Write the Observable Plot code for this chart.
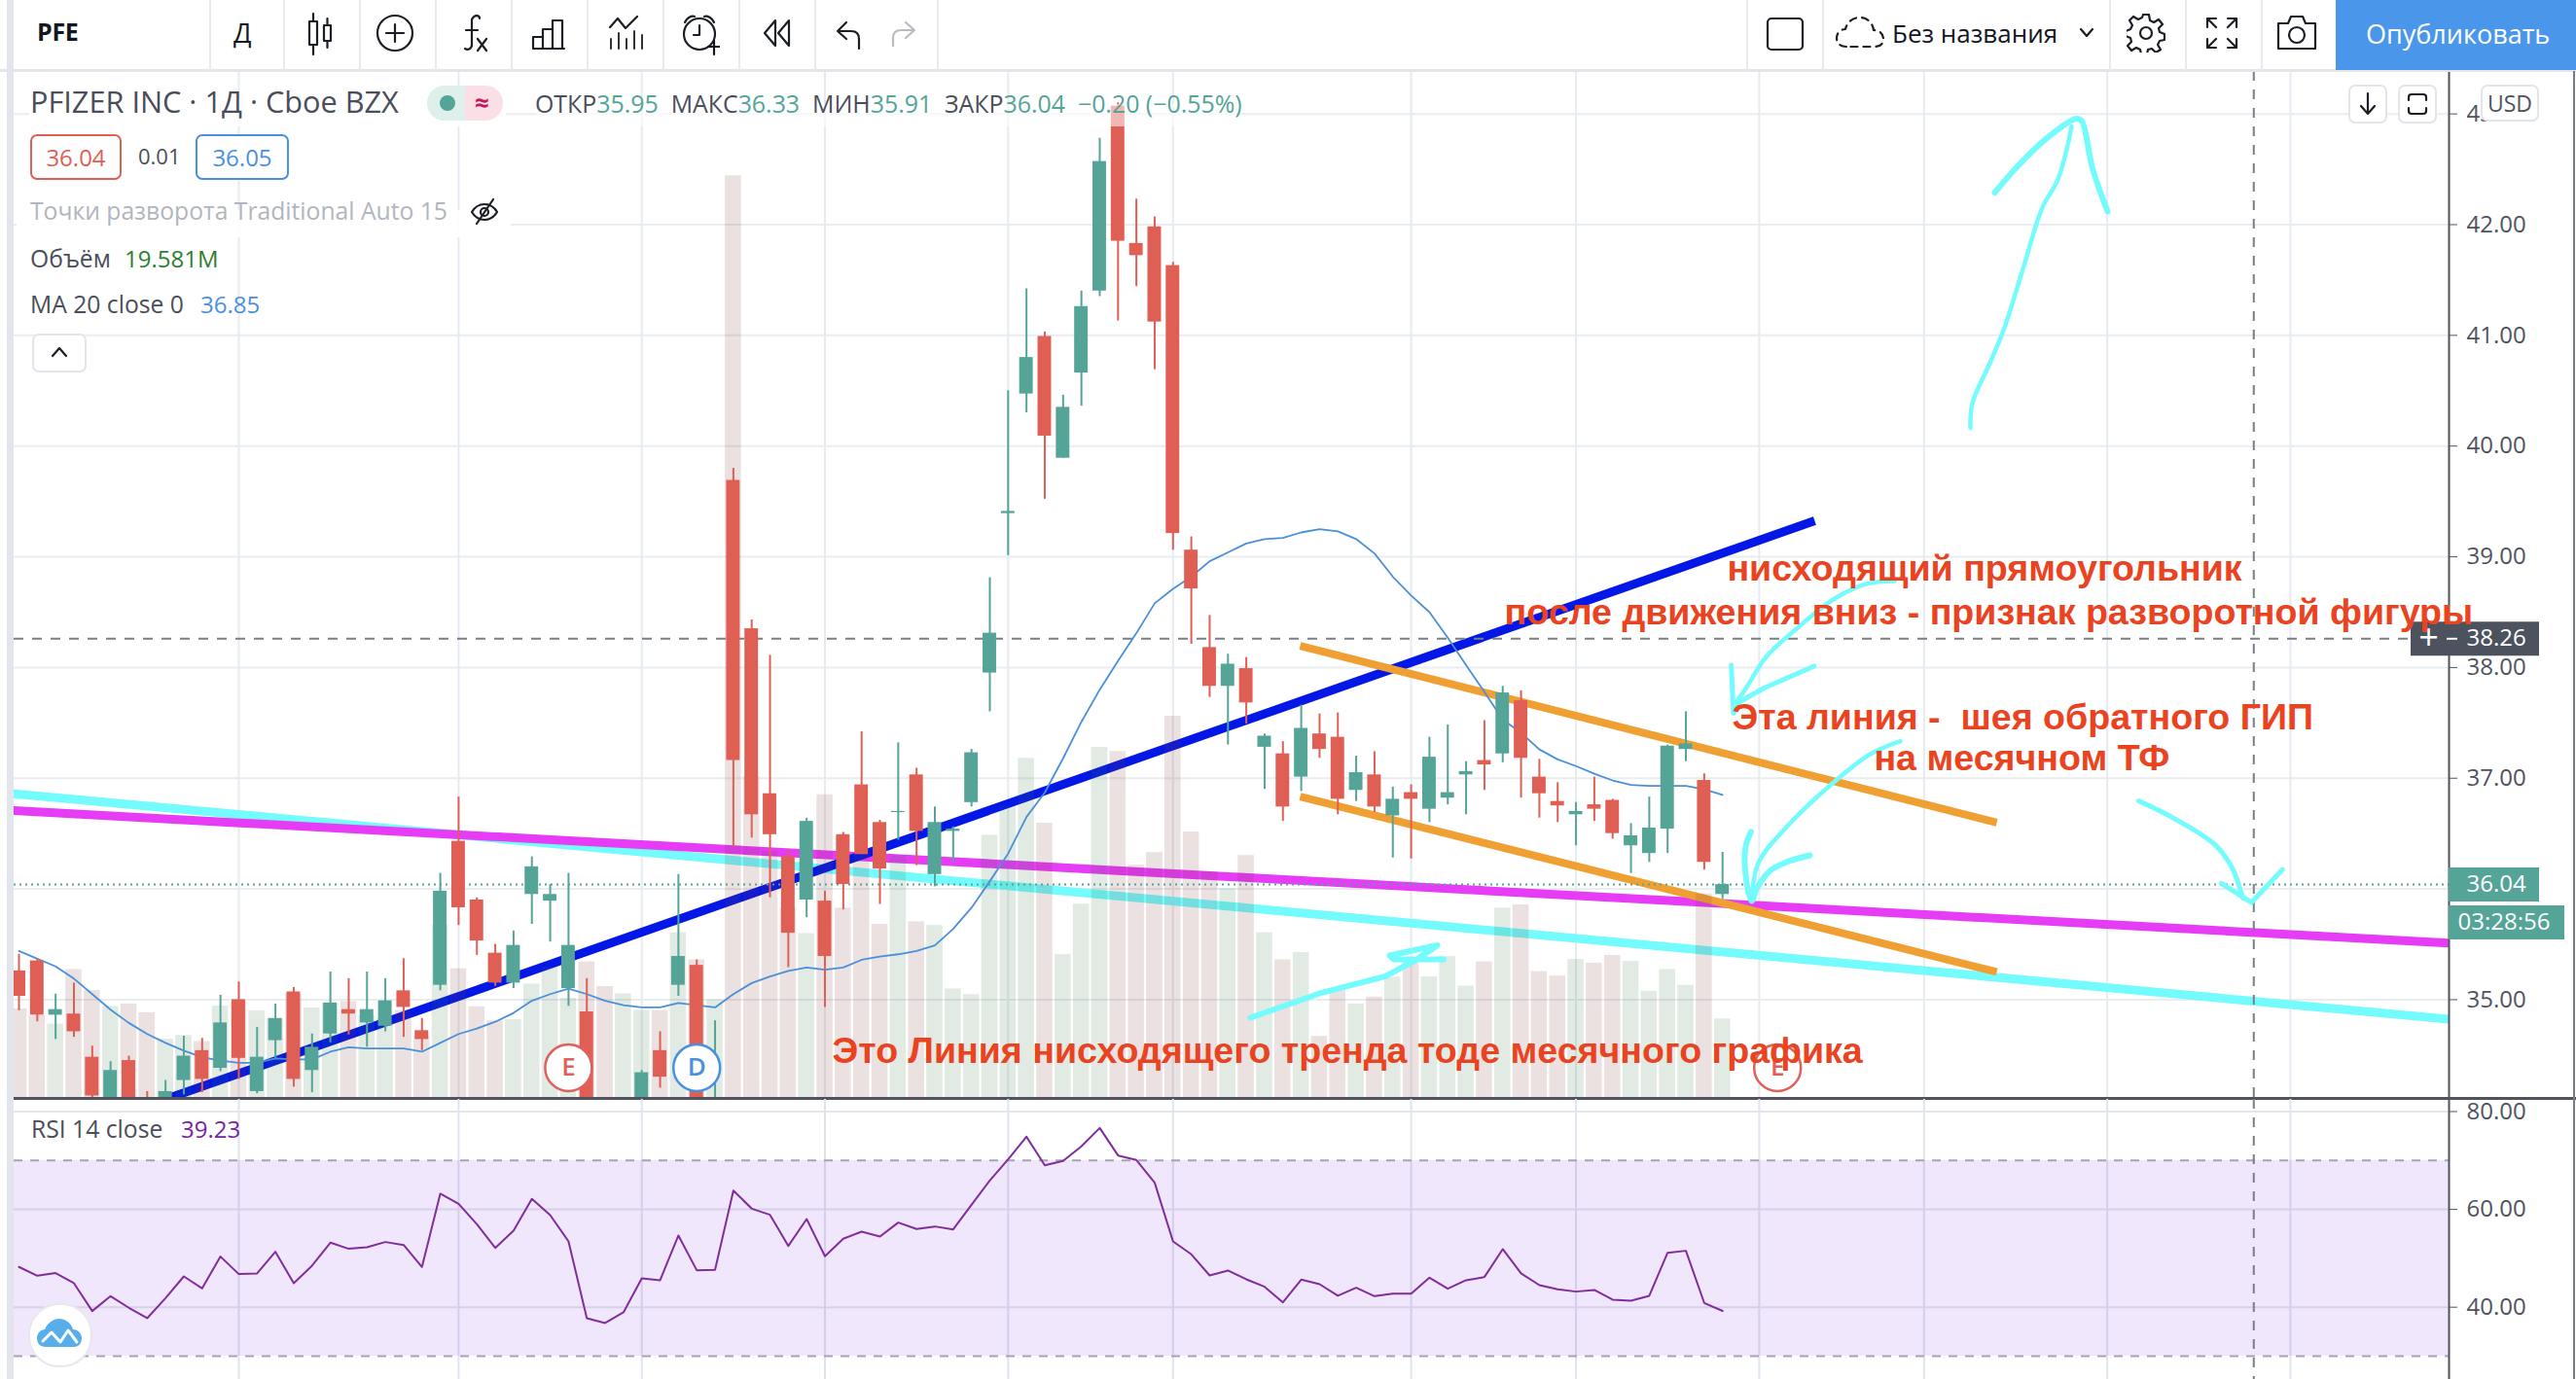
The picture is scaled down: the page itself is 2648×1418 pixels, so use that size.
<!DOCTYPE html>
<html><head><meta charset="utf-8">
<script src="https://cdn.jsdelivr.net/npm/d3@7"></script>
<script src="https://cdn.jsdelivr.net/npm/@observablehq/plot@0.6"></script>
<style>
html,body{margin:0;padding:0;background:#fff;width:2648px;height:1418px;overflow:hidden}
#root{position:relative;width:2648px;height:1418px;font-family:"Open Sans",sans-serif;color:#4a4e5a}
#root>svg,#root>div,#root>span{position:absolute}
.t{position:absolute;white-space:pre;line-height:1}
.sep{position:absolute;top:0;width:2px;height:72px;background:#e8eaef}
.ic{position:absolute;fill:none;stroke:#1c1e26;stroke-width:2.2;stroke-linecap:round;stroke-linejoin:round}
.box{position:absolute;box-sizing:border-box;border-radius:7px;text-align:center}
</style></head><body><div id="root"></div>
<script>
// ---- data ----
const open  = [35.26,35.35,34.86,34.87,34.48,34.05,34.45,34.05,34.05,34.27,34.54,34.38,35.00,34.17,34.63,35.07,34.36,34.69,34.91,34.79,34.76,35.08,34.72,35.13,36.43,35.90,35.42,35.15,35.95,35.89,35.10,34.89,33.95,33.80,34.00,34.54,35.13,35.31,33.90,39.69,38.35,36.86,36.29,35.90,35.89,36.49,36.94,36.60,36.69,37.03,36.13,36.52,36.78,37.95,39.39,40.47,40.99,39.89,40.66,41.40,43.07,41.83,41.98,41.63,39.06,38.18,37.83,37.99,37.28,37.22,37.01,37.40,37.37,36.89,37.03,36.66,36.87,36.72,36.82,37.03,37.16,37.22,37.70,37.01,36.79,36.67,36.76,36.80,36.39,36.32,36.54,37.26,36.98,35.95];
const high  = [35.41,35.37,35.05,35.15,34.58,34.44,34.49,34.17,34.27,34.67,34.65,35.04,35.16,34.75,34.96,35.11,34.69,35.25,35.19,35.25,35.19,35.37,34.83,36.14,36.83,35.92,35.50,35.62,36.29,36.04,36.14,35.19,34.05,34.05,34.36,34.71,36.13,35.36,34.81,39.80,38.43,38.11,36.35,36.64,35.98,36.51,37.42,36.62,37.32,37.09,36.74,36.56,37.26,38.81,40.50,41.42,41.03,40.46,41.40,42.78,43.10,42.23,42.07,41.66,39.18,38.47,38.12,38.09,37.40,37.33,37.66,37.58,37.59,37.20,37.24,36.92,36.94,37.37,37.48,37.15,37.52,37.83,37.79,37.17,36.96,36.78,37.01,36.81,36.59,36.83,37.30,37.60,37.04,36.33];
const low   = [34.90,34.80,34.64,34.66,34.10,34.00,34.00,33.90,34.00,34.14,34.16,34.35,34.28,34.15,34.47,34.21,34.16,34.61,34.68,34.57,34.71,34.66,34.54,35.08,35.67,35.40,35.12,35.10,35.68,35.52,34.94,33.90,33.70,33.70,33.95,34.20,35.03,33.90,33.85,36.38,36.46,35.92,35.29,35.74,34.93,35.81,36.31,35.86,36.44,36.21,36.02,36.24,36.74,37.60,39.01,40.30,39.52,39.89,40.36,41.35,41.13,41.44,40.69,39.06,38.21,37.73,37.30,37.49,36.90,36.61,36.88,37.18,36.67,36.79,36.69,36.28,36.27,36.60,36.76,36.67,36.89,37.14,36.82,36.64,36.60,36.39,36.61,36.45,36.14,36.24,36.32,37.15,36.17,35.91];
const close = [35.03,34.86,34.91,34.71,34.13,34.36,34.05,33.95,34.17,34.49,34.28,34.79,34.47,34.48,34.83,34.28,34.57,34.97,34.87,34.91,34.99,34.93,34.64,35.98,35.83,35.53,35.15,35.49,36.20,35.95,35.49,34.00,33.80,33.95,34.34,34.30,35.39,34.00,34.05,37.16,36.67,36.49,35.60,36.61,35.39,36.04,36.31,36.18,36.70,36.52,36.60,36.54,37.23,38.31,39.41,40.80,40.09,40.35,41.26,42.57,41.85,41.72,41.12,39.21,38.71,37.83,38.03,37.68,37.38,36.74,37.45,37.26,36.81,37.05,36.74,36.81,36.81,37.19,36.87,37.06,37.12,37.77,37.18,36.86,36.75,36.70,36.72,36.50,36.48,36.55,37.29,37.31,36.24,36.04];
const volume= [22.1,20.4,18.3,31.8,26.6,22.7,23.3,21.1,14.6,15.5,14,22.8,23.9,21.6,19.6,25.6,22.3,23.3,23.9,20.4,19.6,21.7,15.3,42.7,32,22.6,19.1,19.4,28.2,32.4,24.7,33.7,27.6,25.8,21.7,21.7,40.9,34.2,24.3,228,79.5,61,47,40.7,75,47,60,43,60,43.6,42.7,27,25.6,65,72,84,68,35.5,48,86.7,85.7,57.6,60.7,94.4,65.8,56,51.8,60,40.9,34.2,36,15.3,27,23.3,25,29.9,34,30,35,27.7,33.7,47,47.8,31.3,30.2,34.3,33.4,35.3,33.8,26.4,31.8,27.9,50.5,19.58];
const ma20  = [35.44,35.37,35.30,35.19,35.05,34.91,34.79,34.69,34.61,34.54,34.48,34.45,34.43,34.43,34.47,34.46,34.46,34.53,34.57,34.56,34.56,34.56,34.53,34.61,34.69,34.74,34.80,34.88,34.99,35.05,35.10,35.05,34.99,34.95,34.93,34.93,34.97,34.95,34.93,35.05,35.15,35.21,35.26,35.29,35.27,35.29,35.36,35.39,35.41,35.44,35.49,35.64,35.83,36.07,36.32,36.65,36.87,37.18,37.51,37.80,38.06,38.31,38.58,38.71,38.82,38.96,39.04,39.12,39.16,39.17,39.22,39.25,39.23,39.16,39.03,38.82,38.65,38.50,38.27,38.02,37.78,37.53,37.41,37.26,37.17,37.11,37.04,36.98,36.94,36.93,36.93,36.93,36.90,36.85];
const rsi14 = [48.23,46.44,46.97,44.91,39.21,42.26,39.88,37.75,41.86,46.30,43.85,50.35,46.77,46.90,51.34,44.91,48.49,53.20,51.94,52.27,53.33,52.73,48.23,63.20,61.15,56.97,52.13,55.65,62.14,58.83,53.46,37.75,36.76,38.95,45.91,45.51,54.65,47.56,47.63,63.86,60.15,58.89,52.53,58.03,50.41,54.00,55.45,54.45,57.30,55.98,56.51,55.91,60.95,65.92,70.23,74.86,69.03,69.89,72.88,76.65,71.02,70.09,65.45,53.46,50.81,46.50,47.50,45.71,44.18,41.00,45.64,44.71,42.33,43.98,42.26,42.79,42.79,46.04,43.78,45.51,46.17,51.87,46.90,44.51,43.65,43.19,43.52,41.53,41.33,42.33,51.14,51.54,40.87,39.23];
const priceTicks = [35,36,37,38,39,40,41,42,43];
const rsiTicks = [40,60,80];
const gridBars = [12,24,34,44,54,63,76,85,95,104,114,124];
const crossBar = 122;
const lastPrice = 36.04, crossPrice = 38.26;
const earnings = [{i:30,k:"E"},{i:37,k:"D"},{i:96,k:"E"}];
// drawn trend lines: [bar index, price]
const blueLine = [[8.28,34.117],[98.03,39.325]];
const cyanLine = [[-0.27,36.86],[132.66,34.823]];
const magentaLine = [[-0.27,36.708],[132.66,35.511]];
const orangeUpper = [[69.94,38.196],[107.97,36.60]];
const orangeLower = [[69.94,36.834],[107.97,35.25]];
// hand-drawn arrows: [bar index, price]
const bigShaft = [[106.53,40.164],[106.64,40.388],[107.54,40.73],[108.34,41.047],[109.4,41.6],[110.46,42.154],[111.29,42.40],[111.84,42.716],[112.05,42.887]];
const bigHead = [[107.86,42.29],[109.08,42.523],[110.62,42.77],[112.27,42.956],[112.59,42.939],[113.2,42.505],[114.02,42.119]];
const neckShaft = [[102.39,38.781],[100.85,38.755],[99.04,38.614],[97.19,38.372],[95.38,38.096],[94.32,37.823],[93.73,37.683]];
const neckHead = [[93.47,38.021],[93.60,37.586],[93.85,37.683],[95.27,37.815],[98.0,38.013]];
const crossShaft = [[102.71,37.334],[101.06,37.217],[98.94,36.945],[96.49,36.559],[94.95,36.234],[94.58,35.891]];
const crossHead = [[94.55,36.515],[94.25,36.374],[94.25,36.146],[94.58,35.891],[94.9,36.014],[95.59,36.163],[96.49,36.243],[97.77,36.304]];
const rightShaft = [[115.72,36.795],[117.79,36.624],[119.91,36.395],[120.82,36.19],[121.4,35.917]];
const rightHead = [[120.23,36.05],[121.87,35.878],[123.56,36.175]];
const lowSquiggle = [[67.23,34.837],[71.0,35.057],[74.56,35.21],[76.23,35.355],[77.43,35.492],[74.83,35.399],[75.04,35.364],[77.77,35.364]];
const notes = [
 {t:"нисходящий прямоугольник",i:93.25,p:38.895},
 {t:"после движения вниз - признак разворотной фигуры",i:81.1,p:38.50},
 {t:"Эта линия -  шея обратного ГИП",i:93.52,p:37.55},
 {t:"на месячном ТФ",i:101.27,p:37.174},
 {t:"Это Линия нисходящего тренда тоде месячного графика",i:44.4,p:34.538}
];
// ---- palette ----
const UP="#54a498",DOWN="#e05f55",GRID="#e9edf0",AX="#50535e",CY="#74fbfd",NOTE="#e9431f";
const bars = open.map((o,i)=>({i,o,h:high[i],l:low[i],c:close[i],v:volume[i],ma:ma20[i],up:close[i]>=o}));
// layout helpers
const XL=-0.2655,XR=132.66, xi=X=>(X-19)/18.83;
const VOL0=34.11, VOLK=0.03654; // volume drawn on the price scale
const root=document.getElementById("root");
const base={width:2648,marginLeft:14,marginRight:131,marginTop:0,marginBottom:0,x:{domain:[XL,XR],axis:null},
 style:{background:"transparent",overflow:"visible",fontFamily:"'Open Sans',sans-serif"}};
const line=(d,stroke,w,extra={})=>Plot.line(d,{stroke,strokeWidth:w,...extra});
const tag=(y,x1,x2,fill,extra={})=>Plot.ruleY([y],{x1:xi(x1),x2:xi(x2),stroke:fill,strokeWidth:35,...extra});

const main=Plot.plot({...base,height:1056,y:{domain:[34.108,43.3834],axis:null},marks:[
 Plot.ruleY(priceTicks,{stroke:GRID,strokeWidth:2}),
 Plot.ruleX(gridBars,{stroke:"#e6ebf2",strokeWidth:2}),
 line(cyanLine,CY,9,{clip:true}),
 line(magentaLine,"#e63cf5",9,{clip:true}),
 line(blueLine,"#0318e6",9,{clip:true,strokeLinecap:"butt"}),
 line(orangeUpper,"#f0a033",8,{strokeLinecap:"butt"}),
 line(orangeLower,"#f0a033",8,{strokeLinecap:"butt"}),
 Plot.rect(bars,{x1:d=>d.i-.44,x2:d=>d.i+.44,y1:VOL0,y2:d=>VOL0+d.v*VOLK,fill:d=>d.up?"rgb(55,115,68)":"rgb(122,55,55)",fillOpacity:.15}),
 Plot.ruleY([crossPrice],{x1:XL,x2:xi(2478),stroke:"#7a7e87",strokeWidth:2,strokeDasharray:"10,9"}),
 Plot.ruleX([crossBar],{stroke:"#7a7e87",strokeWidth:2,strokeDasharray:"10,9"}),
 Plot.ruleY([lastPrice],{x1:XL,x2:XR,stroke:UP,strokeWidth:2,strokeDasharray:"2,4"}),
 line(bars,"#4a90d9",1.8,{x:"i",y:"ma"}),
 Plot.ruleX(bars,{x:"i",y1:"l",y2:"h",stroke:d=>d.up?UP:DOWN,strokeWidth:2,clip:true}),
 Plot.rect(bars,{x1:d=>d.i-.37,x2:d=>d.i+.37,y1:"o",y2:"c",fill:d=>d.up?UP:DOWN,clip:true}),
 Plot.dot(earnings,{x:"i",y:()=>34.385,r:24,fill:"#fff",stroke:d=>d.k=="D"?"#4a90e2":"#e0605a",strokeWidth:2.5}),
 Plot.text(earnings,{x:"i",y:()=>34.385,text:"k",fill:d=>d.k=="D"?"#4a90e2":"#e0605a",fontSize:26,fontWeight:600}),
 Plot.ruleX([XR],{stroke:AX,strokeWidth:2}),
 Plot.ruleY([34.108],{x1:XL,x2:xi(2648),stroke:AX,strokeWidth:3}),
 Plot.axisY(priceTicks,{anchor:"right",tickSize:8,tickPadding:10,tickFormat:d=>d.toFixed(2),label:null,color:AX,fontSize:24}),
 tag(crossPrice,2478,2610,"#4c525e"),
 Plot.ruleY([crossPrice],{x1:xi(2515),x2:xi(2526),stroke:"#fff",strokeWidth:2}),
 Plot.text(["+"],{x:()=>xi(2496),y:()=>crossPrice,fill:"#fff",fontSize:36}),
 Plot.text([crossPrice],{x:()=>xi(2535),y:d=>d,text:d=>d.toFixed(2),textAnchor:"start",fill:"#fff",fontSize:24}),
 tag(lastPrice,2517,2610,UP),
 Plot.text([lastPrice],{x:()=>xi(2535),y:d=>d,text:d=>d.toFixed(2),textAnchor:"start",fill:"#fff",fontSize:24}),
 tag(lastPrice,2517,2636,UP,{dy:39}),
 Plot.text(["03:28:56"],{x:()=>xi(2526),y:()=>lastPrice,dy:39,textAnchor:"start",fill:"#fff",fontSize:24}),
 line(bigShaft,CY,4.5,{curve:"catmull-rom"}),line(bigHead,CY,6,{curve:"catmull-rom"}),
 line(neckShaft,CY,4.5,{curve:"catmull-rom"}),line(neckHead,CY,5),
 line(crossShaft,CY,4.5,{curve:"catmull-rom"}),line(crossHead,CY,6,{curve:"catmull-rom"}),
 line(rightShaft,CY,5,{curve:"catmull-rom"}),line(rightHead,CY,5),
 line(lowSquiggle,CY,6),
 Plot.text(notes,{x:"i",y:"p",text:"t",textAnchor:"start",fill:NOTE,fontSize:37.6,fontWeight:700,fontFamily:"'Liberation Sans',Arial,sans-serif"})
]});
main.style.left="0";main.style.top="73px";root.appendChild(main);

const rsiPlot=Plot.plot({...base,height:288,y:{domain:[25.22,82.485],axis:null},marks:[
 Plot.ruleY(rsiTicks,{stroke:"#e3e6ea",strokeWidth:2}),
 Plot.ruleX(gridBars,{stroke:"#e0e4ee",strokeWidth:2}),
 Plot.rect([0],{x1:XL,x2:XR,y1:30,y2:70,fill:"rgb(105,15,225)",fillOpacity:.1}),
 Plot.ruleY([70,30],{stroke:"#a9a2b5",strokeWidth:2,strokeDasharray:"9,8"}),
 Plot.ruleX([crossBar],{stroke:"#7a7e87",strokeWidth:2,strokeDasharray:"10,9"}),
 Plot.line(rsi14,{x:(d,i)=>i,y:d=>d,stroke:"#812d9b",strokeWidth:2}),
 Plot.ruleX([XR],{stroke:AX,strokeWidth:2}),
 Plot.axisY(rsiTicks,{anchor:"right",tickSize:8,tickPadding:10,tickFormat:d=>d.toFixed(2),label:null,color:AX,fontSize:24})
]});
rsiPlot.style.left="0";rsiPlot.style.top="1130px";root.appendChild(rsiPlot);

// ---- chrome: toolbar, legend, buttons ----
const seps=[215,291,369,447,525,603,681,759,837,963,1795,1873,2168,2246,2324];
let h=`<div style="left:0;top:0;width:2648px;height:72px;background:#fff"></div>
<div style="left:0;top:71px;width:2648px;height:3px;background:#e3e5ea"></div>
<div style="left:7px;top:0;width:7px;height:1418px;background:#e3e5ec"></div>
<div style="left:2645px;top:73px;width:2px;height:1345px;background:#787b86"></div>`;
h+=seps.map(x=>`<div class="sep" style="left:${x}px"></div>`).join("");
const T=(s,x,y,fs,col,w=400,ls=0)=>`<span class="t" style="left:${x}px;top:${y-fs/2-1}px;font-size:${fs}px;color:${col};font-weight:${w};letter-spacing:${ls}px">${s}</span>`;
h+=T("PFE",38,33,25,"#131722",700,-.3);
h+=T("Д",240,34,27,"#131722");
const ic=(x,y,w,hh,inner,extra="")=>`<svg class="ic" style="left:${x}px;top:${y}px;${extra}" width="${w}" height="${hh}" viewBox="0 0 ${w} ${hh}">${inner}</svg>`;
h+=ic(310,12,36,46,`<rect x="8" y="10" width="8" height="24"/><path d="M12 2v8M12 34v10"/><rect x="23" y="14" width="7" height="16"/><path d="M26.5 7v7M26.5 30v7"/>`);
h+=ic(386,14,40,40,`<circle cx="20" cy="20" r="18"/><path d="M20 11v18M11 20h18"/>`);
h+=ic(470,14,34,42,`<path d="M15 6c3-6 8-4 8-1M15 6v26c0 4-4 6-7 4M9 17h12"/><path d="M21 26l9 12M30 26l-9 12"/>`);
h+=ic(546,18,36,34,`<path d="M2 32V20h10v12M12 32V12h10v20M22 32V3h10v29M2 32h32"/>`);
h+=ic(625,16,38,36,`<path d="M2 12l8-9 8 10 12-12"/><path d="M3 34V24M11 34V18M19 34V24M27 34V16M35 34V20" stroke-width="1.8"/>`);
h+=ic(700,14,40,44,`<circle cx="19" cy="21" r="16"/><path d="M4 9c2-5 7-7 10-6M34 9c-2-5-7-7-10-6M19 12v10h-6"/><path d="M28 34h12M34 28v14" stroke="#131722"/>`);
h+=ic(783,18,30,32,`<path d="M14 3L3 16l11 13V3zM28 3L17 16l11 13V3z" />`);
h+=ic(858,20,28,32,`<path d="M12 3L3 12l9 8M3 12h14c6 0 8 4 8 8v10"/>`);
h+=ic(915,20,28,28,`<path d="M16 3l9 8-9 8M25 11H11c-5 0-8 3-8 8v8"/>`,"stroke:#b8bbc3");
h+=ic(1815,17,40,36,`<rect x="2" y="2" width="36" height="32" rx="4"/>`);
h+=ic(1886,16,52,36,`<path d="M12 32C5 32 2 28 2 23s4-9 9-9c2-8 8-12 15-12s13 5 14 13c6 0 10 4 10 9s-3 8-9 8z" stroke-dasharray="7,6"/>`);
h+=T("Без названия",1945,35,26,"#131722");
h+=ic(2137,28,16,12,`<path d="M2 2l6 7 6-7"/>`);
h+=ic(2186,14,40,40,`<circle cx="20" cy="20" r="6"/><path d="M17 2h6l1 6 4 2 5-3 4 5-4 4 1 4 5 2v6l-5 1-2 4 3 5-5 3-4-4-4 1-1 5h-6l-1-5-4-2-5 3-4-5 4-4-1-4-5-2v-5l5-2 2-4-3-5 4-4 5 3 4-2z" transform="translate(0,-1)"/>`);
h+=ic(2266,16,36,36,`<path d="M3 12V3h9M3 3l9 9M33 12V3h-9M33 3l-9 9M3 24v9h9M3 33l9-9M33 24v9h-9M33 33l-9-9"/>`);
h+=ic(2339,14,44,38,`<path d="M3 10h10l3-7h12l3 7h10v26H3z"/><circle cx="22" cy="22" r="8"/>`);
h+=`<div style="left:2401px;top:0;width:247px;height:72px;background:#4a96ea"></div>`;
h+=T("Опубликовать",2432,35,27,"#fff");
// legend backdrops
h+=`<div style="left:551px;top:107px;width:725px;height:23px;background:rgba(255,255,255,.55)"></div>`;
h+=`<div style="left:17px;top:216px;width:508px;height:28px;background:rgba(255,255,255,.9)"></div>`;
h+=`<div style="left:30px;top:102px;width:490px;height:28px;background:rgba(255,255,255,.9)"></div>`;
h+=T("PFIZER INC · 1Д · Cboe BZX",31,105,30.7,"#4a4e5a");
h+=`<div style="left:439px;top:88px;width:78px;height:36px;border-radius:18px;overflow:hidden;background:linear-gradient(90deg,#deefec 50%,#fbdfe7 50%)"></div>
<div style="left:452px;top:98px;width:16px;height:16px;border-radius:8px;background:${UP}"></div>`;
h+=T("≈",488,106,26,"#c2185b",700);
const row=[["ОТКР",1],["35.95",0],["  МАКС",1],["36.33",0],["  МИН",1],["35.91",0],["  ЗАКР",1],["36.04",0],["  −0.20 (−0.55%)",0]];
h+=`<span class="t" style="left:550px;top:94px;font-size:24.9px">${row.map(([s,k])=>`<span style="color:${k?"#4a4e5a":UP}">${s}</span>`).join("")}</span>`;
h+=`<div class="box" style="left:31px;top:138px;width:94px;height:47px;border:2px solid ${DOWN};color:${DOWN};font-size:24px;line-height:43px;background:#fff">36.04</div>`;
h+=T("0.01",142,161,22,"#4a4e5a");
h+=`<div class="box" style="left:201px;top:138px;width:96px;height:47px;border:2px solid #4a90e2;color:#4a90e2;font-size:24px;line-height:43px;background:#fff">36.05</div>`;
h+=T("Точки разворота Traditional Auto 15",31,218,24.7,"#b2b5be");
h+=ic(482,202,32,32,`<path d="M3 16c3-5 8-8 13-8s10 3 13 8c-3 5-8 8-13 8s-10-3-13-8z"/><circle cx="16" cy="16" r="4"/><path d="M8 28L25 3"/>`);
h+=T("Объём",31,267,24.7,"#4a4e5a")+T("19.581M",128,267,24,"#2e7d32");
h+=T("MA 20 close 0",31,314,24.7,"#4a4e5a")+T("36.85",206,314,24,"#4a90e2");
h+=`<div class="box" style="left:33px;top:343px;width:56px;height:40px;border:2px solid #e3e5ea;background:#fff"></div>`;
h+=ic(52,356,18,12,`<path d="M2 10l7-8 7 8"/>`);
// top-right pane buttons
h+=`<div class="box" style="left:2414px;top:87px;width:40px;height:40px;border:2px solid #e3e5ea;background:#fff"></div>`;
h+=ic(2425,94,18,26,`<path d="M9 2v21M2 15l7 8 7-8"/>`);
h+=`<div class="box" style="left:2465px;top:87px;width:40px;height:40px;border:2px solid #e3e5ea;background:#fff"></div>`;
h+=ic(2474,95,22,24,`<path d="M2 8V5a3 3 0 013-3h12a3 3 0 013 3v3M2 16v3a3 3 0 003 3h12a3 3 0 003-3v-3"/>`);
h+=`<div class="box" style="left:2550px;top:87px;width:60px;height:38px;border:2px solid #e3e5ea;background:#fff;font-size:23px;line-height:34px;color:#50535e">USD</div>`;
// RSI legend and logo
h+=T("RSI 14 close",32,1162,24.7,"#4a4e5a")+T("39.23",186,1162,24,"#7b1fa2");
h+=`<div style="left:29px;top:1340px;width:62px;height:62px;border-radius:32px;background:#fff;border:2px solid #e8e8ec"></div>`;
h+=`<svg class="ic" style="left:38px;top:1355px;stroke:none" width="46" height="32" viewBox="0 0 46 32"><path fill="#58aeea" d="M9 30C3 30 0 26 0 21s4-9 8-9c3-7 9-11 15-11s12 4 14 11c5 0 9 4 9 9s-3 9-8 9z"/><path d="M6 24l9-9 9 10 8-12 9 12" stroke="#fff" stroke-width="3" fill="none"/></svg>`;
root.insertAdjacentHTML("beforeend",h);
</script></body></html>
